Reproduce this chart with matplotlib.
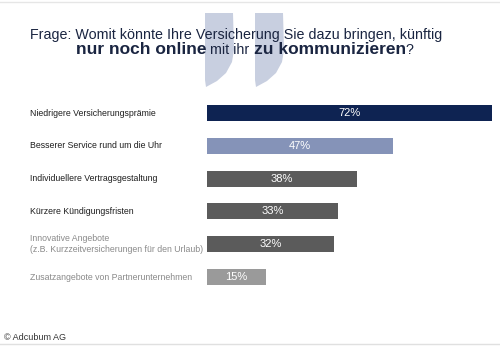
import matplotlib
matplotlib.use("Agg")
import matplotlib.pyplot as plt
from matplotlib.patches import Polygon
from matplotlib.transforms import blended_transform_factory

plt.rcParams["font.family"] = ["Liberation Sans", "DejaVu Sans"]

labels = [
    "Niedrigere Versicherungsprämie",
    "Besserer Service rund um die Uhr",
    "Individuellere Vertragsgestaltung",
    "Kürzere Kündigungsfristen",
    "Innovative Angebote\n(z.B. Kurzzeitversicherungen für den Urlaub)",
    "Zusatzangebote von Partnerunternehmen",
]
values = [72, 47, 38, 33, 32, 15]
bar_colors = ["#0e2352", "#8593b8", "#5b5b5b", "#5b5b5b", "#5b5b5b", "#9a9a9a"]
label_colors = ["#1e1e1e", "#1e1e1e", "#1e1e1e", "#1e1e1e", "#8a8a8a", "#8a8a8a"]

W, H = 500, 348
fig = plt.figure(figsize=(W / 100, H / 100), dpi=100)
fig.patch.set_facecolor("white")


def px(x, y):
    # pixel position from top-left -> figure fraction
    return (x / W, 1 - y / H)


# thin frame lines top and bottom
fig.add_artist(plt.Line2D([0, 1], [1 - 2 / H, 1 - 2 / H], color="#e6e6e6", lw=1))
fig.add_artist(plt.Line2D([0, 1], [1 - 344 / H, 1 - 344 / H], color="#e0e0e0", lw=1))

# big decorative closing quote behind the title
comma = [(0, 13), (28, 13), (29, 50), (27, 62), (21, 73), (12, 81), (1, 87), (0, 80)]
for x0 in (205, 255):
    pts = [px(x0 + dx, y) for dx, y in comma]
    fig.add_artist(Polygon(pts, closed=True, transform=fig.transFigure,
                           facecolor="#c8cfe0", edgecolor="none", zorder=0))

# title
navy = "#1a2541"
fig.text(*px(30, 39), "Frage: Womit könnte Ihre Versicherung Sie dazu bringen, künftig",
         fontsize=10.3, color=navy, va="baseline", zorder=2)
renderer = fig.canvas.get_renderer()
parts = [("nur noch online", "heavy"), (" mit ihr ", "normal"),
         ("zu kommunizieren", "heavy"), ("?", "normal")]
x = 76
for txt, wt in parts:
    t = fig.text(*px(x, 54), txt, fontsize=12.5 if wt == "heavy" else 10.3,
                 fontweight=wt, color=navy, va="baseline", zorder=2)
    x += t.get_window_extent(renderer=renderer).width

# bars
spacing = 32.8
top = 113 - spacing / 2
bottom = 277 + spacing / 2
px_per = 3.955
xmax = 72.5
ax = fig.add_axes([207 / W, 1 - bottom / H, xmax * px_per / W, (bottom - top) / H])
ax.set_xlim(0, xmax)
ax.set_ylim(len(values) - 0.5, -0.5)
ax.axis("off")
ypos = list(range(len(values)))
ax.barh(ypos, values, height=0.49, color=bar_colors)
for y, v in zip(ypos, values):
    ax.text(v / 2, y, f"{v}%", color="white", ha="center", va="center", fontsize=8)

tr = blended_transform_factory(fig.transFigure, ax.transData)
for y, lab, c in zip(ypos, labels, label_colors):
    ax.text(30 / W, y, lab, transform=tr, ha="left", va="center",
            fontsize=6.3, color=c, linespacing=1.3)

fig.text(*px(4, 338), "© Adcubum AG", fontsize=6.5, color="#333333", va="center")

fig.savefig("out.png", dpi=100)
